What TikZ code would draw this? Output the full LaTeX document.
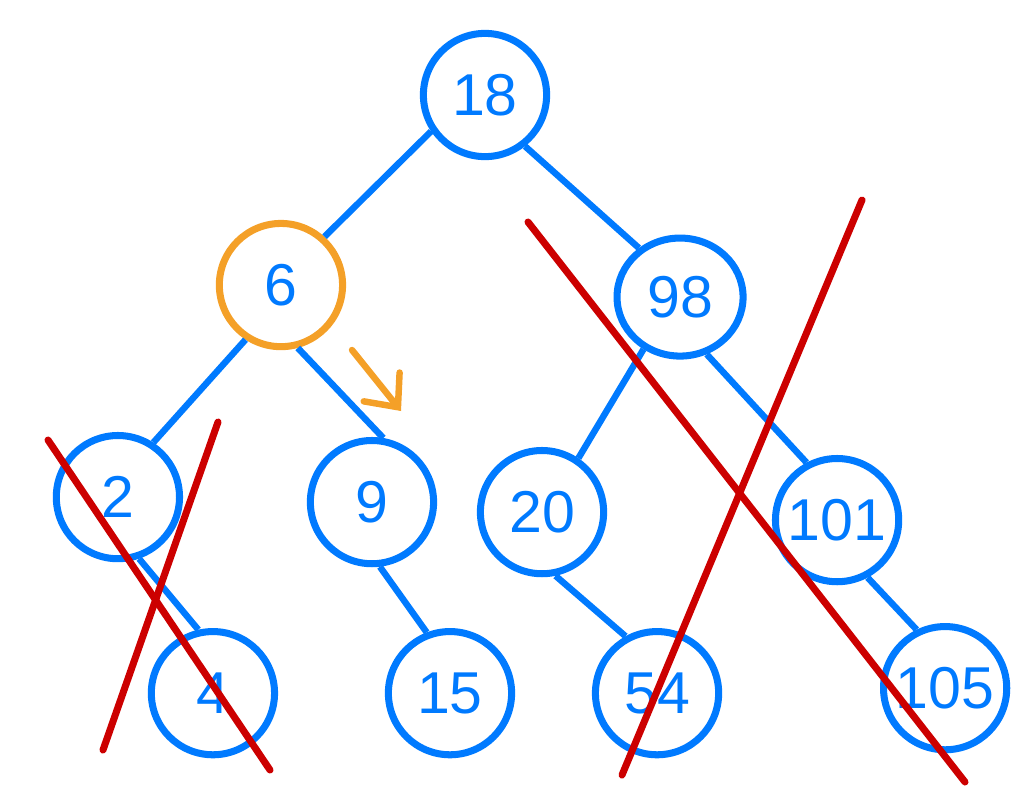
\documentclass[tikz,border=0pt]{standalone}
\usepackage{fontspec}
\setmainfont{Liberation Sans}
\usepackage{xcolor}
\usetikzlibrary{shapes.geometric}
\usetikzlibrary{positioning,arrows.meta}
\definecolor{treeblue}{RGB}{0,122,255}
\definecolor{markorange}{RGB}{244,160,40}
\definecolor{crossred}{RGB}{204,0,0}

\begin{document}
\begin{tikzpicture}[
  x=0.025cm, y=-0.025cm, on grid,
  every node/.style={circle, draw=treeblue, text=treeblue, line width=5pt,
    minimum size=3.08cm, inner sep=0pt, font=\fontsize{42}{42}\selectfont},
  edge/.style={draw=treeblue, line width=4.6pt},
  cross/.style={draw=crossred, line width=5pt, line cap=round},
]
\useasboundingbox (0,0) rectangle (1024,811);
\node (n18) at (485,95) {18};
\node (n6)  [below left=4.75cm and 5.1cm of n18, draw=markorange] {6};
\node (n98) [below right=5.05cm and 4.875cm of n18, ellipse,
  minimum width=3.15cm, minimum height=2.95cm] {98};
\node (n2)  [below left=5.3cm and 4.075cm of n6]    {2};
\node (n9)  [below right=5.425cm and 2.275cm of n6] {9};
\node (n20) [below left=5.375cm and 3.45cm of n98]  {20};
\node (n101) [below right=5.575cm and 3.925cm of n98] {101};
\node (n4)  [below right=4.9cm and 2.375cm of n2]   {4};
\node (n15) [below right=4.775cm and 1.95cm of n9]  {15};
\node (n54) [below right=4.525cm and 2.875cm of n20] {54};
\node (n105) [below right=4.2cm and 2.7cm of n101] {105};

\draw[edge] (n18.-146) to (n6.48);
\draw[edge] (n18.-52) to (n98.130);
\draw[edge] (n6.-123) to (n2.57);
\draw[edge] (n6.-75) to (n9.80);
\draw[edge] (n98.-125) to (n20.56);
\draw[edge] (n98.-65) to (n101.118);
\draw[edge] (n2.-71) to (n4.103);
\draw[edge] (n9.-83) to (n15.111);
\draw[edge] (n20.-78) to (n54.119);
\draw[edge] (n101.-62) to (n105.116);

% next step
\coordinate (go1) at (352,350);
\coordinate (go2) at (401,411);
\draw[draw=markorange, line width=4.6pt, line cap=round, line join=round,
  -{Straight Barb[length=0.65cm, width=1.15cm, line cap=round]}] (go1) to (go2);

% removed subtrees
\coordinate (xa1) at (48,440);
\coordinate (xa2) at (270,770);
\coordinate (xb1) at (218,422);
\coordinate (xb2) at (103,750);
\coordinate (xc1) at (528,222);
\coordinate (xc2) at (965,782);
\coordinate (xd1) at (862,200);
\coordinate (xd2) at (622,775);
\draw[cross] (xa1) to (xa2);
\draw[cross] (xb1) to (xb2);
\draw[cross] (xc1) to (xc2);
\draw[cross] (xd1) to (xd2);
\end{tikzpicture}
\end{document}
